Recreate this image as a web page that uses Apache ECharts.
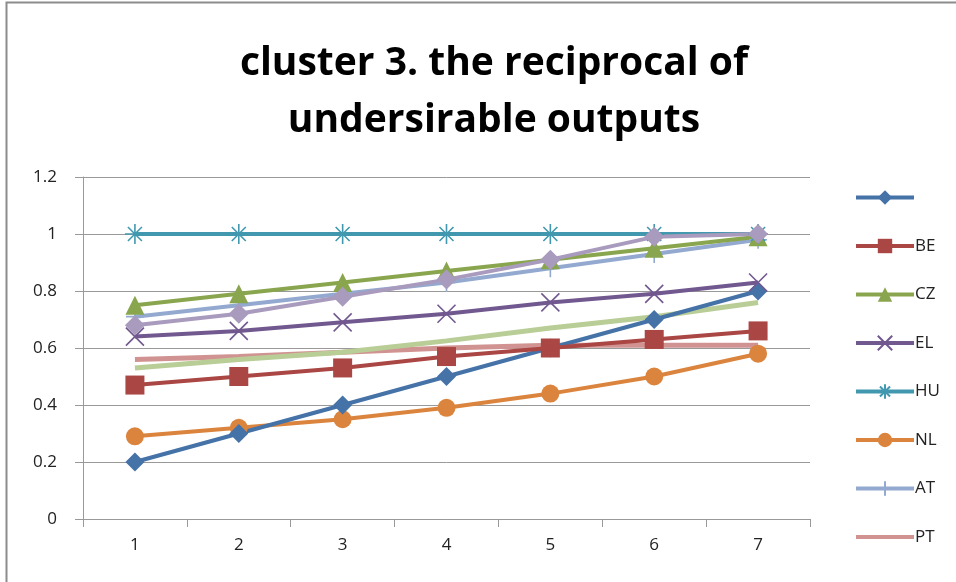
<!DOCTYPE html>
<html>
<head>
<meta charset="utf-8">
<script src="https://cdn.jsdelivr.net/npm/echarts@6/dist/echarts.min.js"></script>
<style>
  html, body { margin: 0; padding: 0; background: #fff; }
  #chart { width: 956px; height: 582px; }
</style>
</head>
<body>
<div id="chart"></div>
<script>
// Periods on the x axis
const periods = ['1', '2', '3', '4', '5', '6', '7'];

// Reciprocal of undesirable outputs per country
const unnamed  = [0.20, 0.30, 0.40, 0.50, 0.60, 0.70, 0.80];
const beVals   = [0.47, 0.50, 0.53, 0.57, 0.60, 0.63, 0.66];
const czVals   = [0.75, 0.79, 0.83, 0.87, 0.91, 0.95, 0.99];
const elVals   = [0.64, 0.66, 0.69, 0.72, 0.76, 0.79, 0.83];
const huVals   = [1.00, 1.00, 1.00, 1.00, 1.00, 1.00, 1.00];
const nlVals   = [0.29, 0.32, 0.35, 0.39, 0.44, 0.50, 0.58];
const atVals   = [0.71, 0.75, 0.79, 0.83, 0.88, 0.93, 0.98];
const ptVals   = [0.56, 0.57, 0.585, 0.60, 0.61, 0.61, 0.61];
const greenVals = [0.53, 0.56, 0.585, 0.625, 0.67, 0.71, 0.76];
const lilacVals = [0.68, 0.72, 0.78, 0.84, 0.91, 0.99, 1.00];

const legendNames = [' ', 'BE', 'CZ', 'EL', 'HU', 'NL', 'AT', 'PT'];
const yTicks = { min: 0, max: 1.2, interval: 0.2 };

const xSym = 'path://M0,0L10,10M10,0L0,10';
const starSym = 'path://M5,0L5,10M0,5L10,5M1.5,1.5L8.5,8.5M8.5,1.5L1.5,8.5';
const plusSym = 'path://M5,0L5,10M0,5L10,5';

function line(name, data, color, symbol, size, stroked, width) {
  const s = {
    name: name,
    type: 'line',
    data: data,
    symbol: symbol,
    symbolSize: size,
    showSymbol: symbol !== 'none',
    lineStyle: { color: color, width: width || 4 },
    itemStyle: { color: color },
    emphasis: { disabled: true },
    animation: false
  };
  if (stroked) {
    s.itemStyle = { color: color, borderColor: color, borderWidth: 1.6 };
  }
  return s;
}

const chart = echarts.init(document.getElementById('chart'), null, { renderer: 'canvas' });
chart.setOption({
  backgroundColor: '#fff',
  title: {
    text: 'cluster 3. the reciprocal of\nundersirable outputs',
    left: 489,
    textAlign: 'center',
    top: 30,
    textStyle: {
      fontFamily: 'Open Sans, sans-serif',
      fontWeight: 'bold',
      fontSize: 39,
      lineHeight: 57,
      color: '#000'
    }
  },
  graphic: [{
    type: 'rect',
    shape: { x: 6.5, y: 2.5, width: 1000, height: 700 },
    style: { fill: 'none', stroke: '#8c8c8c', lineWidth: 2 },
    silent: true
  }],
  legend: {
    data: legendNames.map(n => n === 'PT' ? { name: n, itemStyle: { opacity: 0 } } : n),
    orient: 'vertical',
    left: 849,
    top: 184,
    itemWidth: 58,
    itemHeight: 18,
    itemGap: 31.5,
    lineStyle: { width: 4 },
    textStyle: { fontFamily: 'Open Sans, sans-serif', fontSize: 17, color: '#222', padding: [0, 0, 0, -4] }
  },
  grid: { left: 83, right: 146, top: 177, bottom: 63 },
  xAxis: {
    type: 'category',
    data: periods,
    boundaryGap: true,
    axisLine: { lineStyle: { color: '#999', width: 1 } },
    axisTick: { show: true, length: 8, lineStyle: { color: '#999' } },
    axisLabel: { fontFamily: 'Open Sans, sans-serif', fontSize: 17, color: '#222', margin: 18 },
    splitLine: { show: false }
  },
  yAxis: {
    type: 'value',
    min: yTicks.min,
    max: yTicks.max,
    interval: yTicks.interval,
    axisLine: { show: true, lineStyle: { color: '#999', width: 1 } },
    axisTick: { show: true, length: 8, lineStyle: { color: '#999' } },
    axisLabel: {
      fontFamily: 'Open Sans, sans-serif', fontSize: 17, color: '#222', margin: 26,
      formatter: v => String(Math.round(v * 10) / 10)
    },
    splitLine: { show: true, lineStyle: { color: '#999', width: 1 } }
  },
  series: [
    line('PT', ptVals, '#D19392', 'none', 0, false, 5),
    line('', greenVals, '#B9CD96', 'none', 0, false, 5),
    line('NL', nlVals, '#DB843D', 'circle', 18),
    line(' ', unnamed, '#4572A7', 'diamond', 19),
    line('BE', beVals, '#AA4643', 'rect', 19),
    line('EL', elVals, '#71588F', xSym, 18, true),
    line('AT', atVals, '#93A9CF', plusSym, 18, true),
    line('CZ', czVals, '#89A54E', 'triangle', 19),
    line('HU', huVals, '#4198AF', starSym, 20, true),
    line('', lilacVals, '#A99BBD', 'diamond', 20)
  ]
});
</script>
</body>
</html>
